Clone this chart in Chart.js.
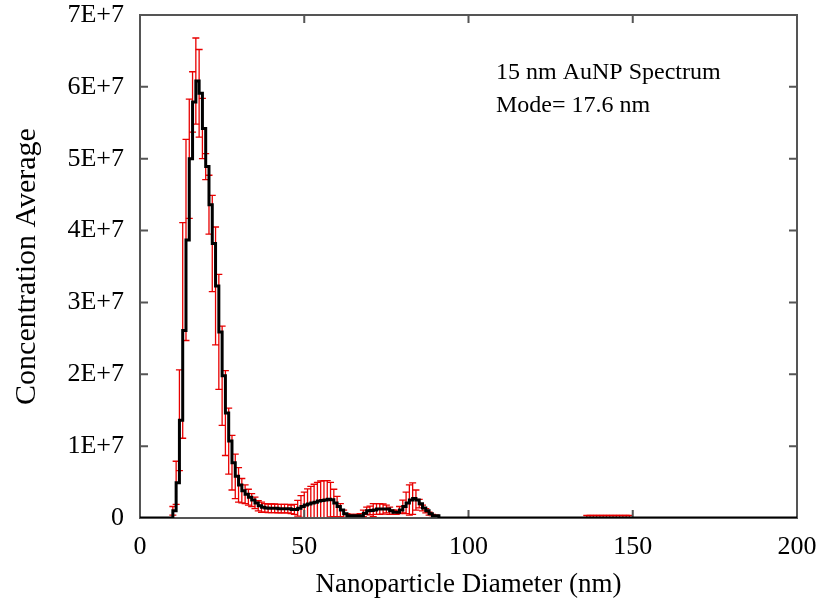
<!DOCTYPE html>
<html>
<head>
<meta charset="utf-8">
<script src="https://cdn.jsdelivr.net/npm/chart.js@4.4.1/dist/chart.umd.min.js"></script>
<style>
  html, body { margin: 0; padding: 0; background: #fff; }
  #wrap { width: 818px; height: 609px; }
</style>
</head>
<body>
<div id="wrap"><canvas id="aunp-chart" width="818" height="609"></canvas></div>
<script>
// bin left edges (nm)
const diameters = [
  0, 10, 11, 12, 13, 14, 15, 16, 17, 18, 19, 20, 21, 22, 23, 24, 25, 26, 27, 28, 29,
  30, 31, 32, 33, 34, 35, 36, 37, 38, 39, 40, 41, 42, 43, 44, 45, 46, 47, 48, 49,
  50, 51, 52, 53, 54, 55, 56, 57, 58, 59, 60, 61, 62, 63, 64, 65, 66, 67, 68, 69,
  70, 71, 72, 73, 74, 75, 76, 77, 78, 79, 80, 81, 82, 83, 84, 85, 86, 87, 88, 89,
  90, 91, 136, 137, 138, 139, 140, 141, 142, 143, 144, 145, 146, 147, 148, 149, 150, 200
];
const concentration = [
  0, 1.0e6, 4.9e6, 13.6e6, 26.1e6, 38.7e6, 50.0e6, 57.9e6, 60.8e6, 59.1e6, 54.2e6,
  48.9e6, 43.6e6, 38.2e6, 32.3e6, 25.9e6, 19.8e6, 14.6e6, 10.7e6, 7.7e6, 5.8e6,
  4.6e6, 3.8e6, 3.3e6, 2.9e6, 2.5e6, 2.1e6, 1.7e6, 1.5e6, 1.4e6, 1.35e6,
  1.35e6, 1.35e6, 1.3e6, 1.3e6, 1.3e6, 1.3e6, 1.2e6, 1.2e6, 1.35e6, 1.6e6,
  1.8e6, 1.95e6, 2.1e6, 2.2e6, 2.35e6, 2.45e6, 2.5e6, 2.6e6, 2.55e6, 2.1e6,
  1.6e6, 1.1e6, 0.6e6, 0.3e6, 0.3e6, 0.3e6, 0.3e6, 0.3e6, 0.65e6, 1.0e6,
  1.05e6, 1.1e6, 1.25e6, 1.25e6, 1.25e6, 1.25e6, 1.0e6, 0.8e6, 0.8e6, 1.1e6,
  1.6e6, 2.1e6, 2.5e6, 2.7e6, 2.5e6, 2.0e6, 1.4e6, 1.0e6, 0.6e6, 0.3e6,
  0.3e6, 0, 0, 0, 0, 0, 0, 0, 0, 0, 0, 0, 0, 0, 0, 0, 0, 0
];
const concError = [
  0, 0.6e6, 3.0e6, 7.0e6, 15.0e6, 14.0e6, 8.3e6, 4.2e6, 6.0e6, 6.1e6, 4.2e6,
  1.8e6, 4.1e6, 6.7e6, 8.2e6, 8.0e6, 6.9e6, 5.9e6, 4.6e6, 3.8e6, 3.1e6,
  2.4e6, 1.7e6, 1.3e6, 1.1e6, 0.9e6, 0.8e6, 0.7e6, 0.7e6, 0.6e6, 0.6e6,
  0.6e6, 0.6e6, 0.6e6, 0.6e6, 0.6e6, 0.6e6, 0.6e6, 0.7e6, 1.1e6, 1.5e6,
  1.8e6, 2.1e6, 2.3e6, 2.5e6, 2.6e6, 2.7e6, 2.7e6, 2.6e6, 2.4e6, 1.9e6,
  1.4e6, 0.9e6, 0.5e6, 0.3e6, 0.2e6, 0.2e6, 0.2e6, 0.3e6, 0.45e6, 0.5e6,
  0.6e6, 0.9e6, 0.75e6, 0.75e6, 0.7e6, 0.55e6, 0.5e6, 0.3e6, 0.3e6, 0.5e6,
  0.9e6, 1.5e6, 2.1e6, 2.2e6, 1.4e6, 0.6e6, 0.4e6, 0.3e6, 0.2e6, 0.2e6,
  0.1e6, 0, 0.35e6, 0.35e6, 0.35e6, 0.35e6, 0.35e6, 0.35e6, 0.35e6, 0.35e6,
  0.35e6, 0.35e6, 0.35e6, 0.35e6, 0.35e6, 0.35e6, 0, 0
];
const xTicks = [0, 50, 100, 150, 200];
const yTicks = [0, 1e7, 2e7, 3e7, 4e7, 5e7, 6e7, 7e7];
const noteLines = ["15 nm AuNP Spectrum", "Mode= 17.6 nm"];

const serif = '"Liberation Serif", "Times New Roman", serif';
const points = diameters.map((d, i) => ({ x: d, y: concentration[i] }));

// red error bars, drawn under the black step line
const errorBars = {
  id: "errorBars",
  beforeDatasetsDraw(chart) {
    const { ctx, chartArea, scales } = chart;
    ctx.save();
    ctx.beginPath();
    ctx.rect(chartArea.left, chartArea.top, chartArea.width, chartArea.height);
    ctx.clip();
    ctx.strokeStyle = "#e80000";
    ctx.lineWidth = 1.3;
    diameters.forEach((d, i) => {
      if (!concError[i]) return;
      const x = scales.x.getPixelForValue(d);
      const top = scales.y.getPixelForValue(concentration[i] + concError[i]);
      const bot = scales.y.getPixelForValue(concentration[i] - concError[i]);
      ctx.beginPath();
      ctx.moveTo(x, top); ctx.lineTo(x, bot);
      ctx.moveTo(x - 3.5, top); ctx.lineTo(x + 3.5, top);
      ctx.moveTo(x - 3.5, bot); ctx.lineTo(x + 3.5, bot);
      ctx.stroke();
    });
    ctx.restore();
  }
};

// box frame with inward ticks on all four sides
const frame = {
  id: "frame",
  beforeDatasetsDraw(chart) {
    const { ctx, chartArea: a, scales } = chart;
    ctx.save();
    ctx.strokeStyle = "#555";
    ctx.lineWidth = 2;
    ctx.strokeRect(a.left, a.top, a.width, a.height);
    ctx.beginPath();
    xTicks.forEach((v) => {
      const x = scales.x.getPixelForValue(v);
      ctx.moveTo(x, a.bottom); ctx.lineTo(x, a.bottom - 8);
      ctx.moveTo(x, a.top); ctx.lineTo(x, a.top + 8);
    });
    yTicks.forEach((v) => {
      const y = scales.y.getPixelForValue(v);
      ctx.moveTo(a.left, y); ctx.lineTo(a.left + 8, y);
      ctx.moveTo(a.right, y); ctx.lineTo(a.right - 8, y);
    });
    ctx.stroke();
    ctx.restore();
  }
};

const note = {
  id: "note",
  afterDraw(chart) {
    const { ctx } = chart;
    ctx.save();
    ctx.fillStyle = "#000";
    ctx.font = "24px " + serif;
    ctx.textBaseline = "alphabetic";
    ctx.fillText(noteLines[0], 496, 79);
    ctx.fillText(noteLines[1], 496, 112);
    ctx.restore();
  }
};

new Chart(document.getElementById("aunp-chart"), {
  type: "line",
  data: {
    datasets: [
      {
        label: "Concentration",
        data: points,
        stepped: true,
        borderColor: "#000",
        borderWidth: 3,
        pointRadius: 0,
        fill: false,
      },
    ],
  },
  options: {
    responsive: false,
    animation: false,
    devicePixelRatio: 1,
    layout: { padding: { top: 15, right: 21, left: 0, bottom: 0 } },
    plugins: {
      legend: { display: false },
      tooltip: { enabled: false },
    },
    scales: {
      x: {
        type: "linear",
        min: 0,
        max: 200,
        afterBuildTicks: (s) => { s.ticks = xTicks.map((v) => ({ value: v })); },
        afterFit: (s) => {
          s.height = 91;
          s.paddingLeft = 0;
          s.paddingRight = 0;
        },
        grid: { display: false, drawTicks: false },
        border: { display: false },
        ticks: { padding: 14, color: "#000", font: { family: serif, size: 26 } },
        title: {
          display: true,
          text: "Nanoparticle Diameter (nm)",
          color: "#000",
          font: { family: serif, size: 27 },
          padding: { top: 4, bottom: 8 },
        },
      },
      y: {
        min: 0,
        max: 7e7,
        afterBuildTicks: (s) => { s.ticks = yTicks.map((v) => ({ value: v })); },
        afterFit: (s) => {
          s.width = 140;
          s.paddingTop = 0;
          s.paddingBottom = 0;
        },
        grid: { display: false, drawTicks: false },
        border: { display: false },
        ticks: {
          padding: 16,
          color: "#000",
          font: { family: serif, size: 26 },
          callback: (v) => (v === 0 ? "0" : v / 1e7 + "E+7"),
        },
        title: {
          display: true,
          text: "Concentration Average",
          color: "#000",
          font: { family: serif, size: 30 },
          padding: { top: 9, bottom: 4 },
        },
      },
    },
  },
  plugins: [errorBars, frame, note],
});
</script>
</body>
</html>
